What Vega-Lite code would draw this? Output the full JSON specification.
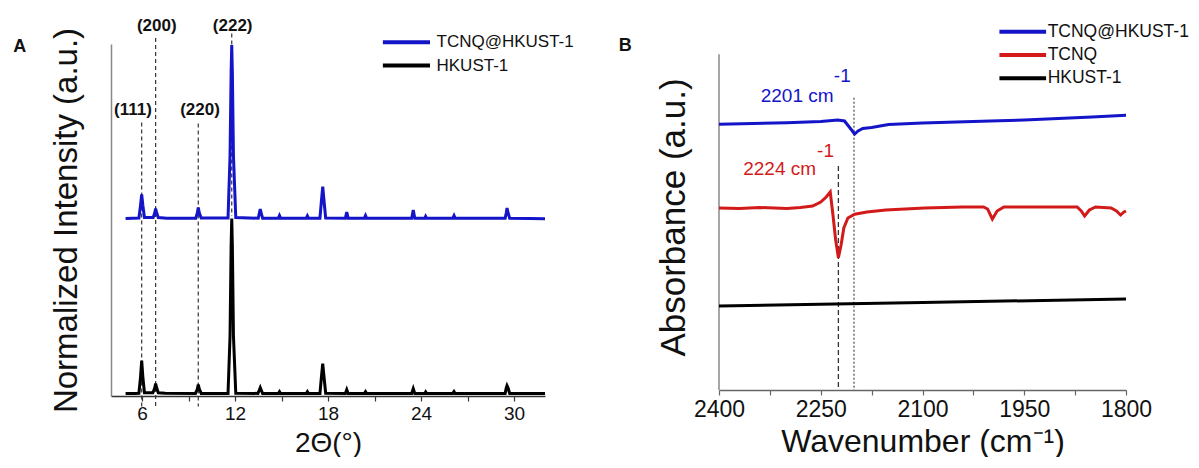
{
  "$schema": "https://vega.github.io/schema/vega-lite/v6.json",
  "padding": {"left": 13, "top": 16, "right": 0, "bottom": 0},
  "bounds": "flush",
  "spacing": 174,
  "config": {"font": "Liberation Sans", "view": {"stroke": null}, "axis": {"grid": false}},
  "datasets": {
    "xrd": [
      {"s": "HKUST-1", "x": 4.94, "y": 0.012}, {"s": "HKUST-1", "x": 5.5, "y": 0.013}, {"s": "HKUST-1", "x": 5.8, "y": 0.014},
      {"s": "HKUST-1", "x": 5.9, "y": 0.09}, {"s": "HKUST-1", "x": 5.98, "y": 0.177}, {"s": "HKUST-1", "x": 6.06, "y": 0.09},
      {"s": "HKUST-1", "x": 6.16, "y": 0.016}, {"s": "HKUST-1", "x": 6.7, "y": 0.016}, {"s": "HKUST-1", "x": 6.82, "y": 0.04},
      {"s": "HKUST-1", "x": 6.88, "y": 0.062}, {"s": "HKUST-1", "x": 6.95, "y": 0.04}, {"s": "HKUST-1", "x": 7.05, "y": 0.016},
      {"s": "HKUST-1", "x": 7.5, "y": 0.014}, {"s": "HKUST-1", "x": 9.45, "y": 0.013}, {"s": "HKUST-1", "x": 9.57, "y": 0.035},
      {"s": "HKUST-1", "x": 9.63, "y": 0.057}, {"s": "HKUST-1", "x": 9.7, "y": 0.035}, {"s": "HKUST-1", "x": 9.82, "y": 0.013},
      {"s": "HKUST-1", "x": 11.55, "y": 0.013}, {"s": "HKUST-1", "x": 11.68, "y": 0.3}, {"s": "HKUST-1", "x": 11.75, "y": 0.75},
      {"s": "HKUST-1", "x": 11.79, "y": 0.8875}, {"s": "HKUST-1", "x": 11.83, "y": 0.75}, {"s": "HKUST-1", "x": 11.9, "y": 0.3},
      {"s": "HKUST-1", "x": 12.05, "y": 0.014}, {"s": "HKUST-1", "x": 13.48, "y": 0.013}, {"s": "HKUST-1", "x": 13.57, "y": 0.03},
      {"s": "HKUST-1", "x": 13.63, "y": 0.042}, {"s": "HKUST-1", "x": 13.69, "y": 0.03}, {"s": "HKUST-1", "x": 13.78, "y": 0.013},
      {"s": "HKUST-1", "x": 14.8, "y": 0.013}, {"s": "HKUST-1", "x": 14.87, "y": 0.022}, {"s": "HKUST-1", "x": 14.94, "y": 0.013},
      {"s": "HKUST-1", "x": 16.6, "y": 0.013}, {"s": "HKUST-1", "x": 16.67, "y": 0.022}, {"s": "HKUST-1", "x": 16.74, "y": 0.013},
      {"s": "HKUST-1", "x": 17.48, "y": 0.013}, {"s": "HKUST-1", "x": 17.57, "y": 0.09}, {"s": "HKUST-1", "x": 17.66, "y": 0.162},
      {"s": "HKUST-1", "x": 17.75, "y": 0.09}, {"s": "HKUST-1", "x": 17.85, "y": 0.014}, {"s": "HKUST-1", "x": 19.12, "y": 0.013},
      {"s": "HKUST-1", "x": 19.21, "y": 0.032}, {"s": "HKUST-1", "x": 19.3, "y": 0.013}, {"s": "HKUST-1", "x": 20.35, "y": 0.013},
      {"s": "HKUST-1", "x": 20.42, "y": 0.022}, {"s": "HKUST-1", "x": 20.49, "y": 0.013}, {"s": "HKUST-1", "x": 23.4, "y": 0.013},
      {"s": "HKUST-1", "x": 23.5, "y": 0.037}, {"s": "HKUST-1", "x": 23.6, "y": 0.013}, {"s": "HKUST-1", "x": 24.25, "y": 0.013},
      {"s": "HKUST-1", "x": 24.3, "y": 0.02}, {"s": "HKUST-1", "x": 24.36, "y": 0.013}, {"s": "HKUST-1", "x": 26.05, "y": 0.013},
      {"s": "HKUST-1", "x": 26.13, "y": 0.022}, {"s": "HKUST-1", "x": 26.2, "y": 0.013}, {"s": "HKUST-1", "x": 29.43, "y": 0.013},
      {"s": "HKUST-1", "x": 29.5, "y": 0.04}, {"s": "HKUST-1", "x": 29.55, "y": 0.052}, {"s": "HKUST-1", "x": 29.62, "y": 0.04},
      {"s": "HKUST-1", "x": 29.72, "y": 0.013}, {"s": "HKUST-1", "x": 31, "y": 0.012}, {"s": "HKUST-1", "x": 32, "y": 0.012},
      {"s": "TCNQ@HKUST-1", "x": 4.94, "y": 0.888}, {"s": "TCNQ@HKUST-1", "x": 5.8, "y": 0.89}, {"s": "TCNQ@HKUST-1", "x": 5.9, "y": 0.95},
      {"s": "TCNQ@HKUST-1", "x": 5.98, "y": 1.008}, {"s": "TCNQ@HKUST-1", "x": 6.06, "y": 0.95}, {"s": "TCNQ@HKUST-1", "x": 6.16, "y": 0.892},
      {"s": "TCNQ@HKUST-1", "x": 6.72, "y": 0.892}, {"s": "TCNQ@HKUST-1", "x": 6.82, "y": 0.915}, {"s": "TCNQ@HKUST-1", "x": 6.88, "y": 0.937},
      {"s": "TCNQ@HKUST-1", "x": 6.95, "y": 0.915}, {"s": "TCNQ@HKUST-1", "x": 7.05, "y": 0.892}, {"s": "TCNQ@HKUST-1", "x": 7.6, "y": 0.889},
      {"s": "TCNQ@HKUST-1", "x": 9.47, "y": 0.889}, {"s": "TCNQ@HKUST-1", "x": 9.57, "y": 0.915}, {"s": "TCNQ@HKUST-1", "x": 9.63, "y": 0.942},
      {"s": "TCNQ@HKUST-1", "x": 9.7, "y": 0.915}, {"s": "TCNQ@HKUST-1", "x": 9.82, "y": 0.89}, {"s": "TCNQ@HKUST-1", "x": 11.55, "y": 0.89},
      {"s": "TCNQ@HKUST-1", "x": 11.68, "y": 1.2}, {"s": "TCNQ@HKUST-1", "x": 11.75, "y": 1.62}, {"s": "TCNQ@HKUST-1", "x": 11.79, "y": 1.755},
      {"s": "TCNQ@HKUST-1", "x": 11.83, "y": 1.62}, {"s": "TCNQ@HKUST-1", "x": 11.9, "y": 1.2}, {"s": "TCNQ@HKUST-1", "x": 12.05, "y": 0.892},
      {"s": "TCNQ@HKUST-1", "x": 13.5, "y": 0.889}, {"s": "TCNQ@HKUST-1", "x": 13.57, "y": 0.915}, {"s": "TCNQ@HKUST-1", "x": 13.63, "y": 0.934},
      {"s": "TCNQ@HKUST-1", "x": 13.69, "y": 0.915}, {"s": "TCNQ@HKUST-1", "x": 13.78, "y": 0.889}, {"s": "TCNQ@HKUST-1", "x": 14.8, "y": 0.889},
      {"s": "TCNQ@HKUST-1", "x": 14.87, "y": 0.902}, {"s": "TCNQ@HKUST-1", "x": 14.94, "y": 0.889}, {"s": "TCNQ@HKUST-1", "x": 16.6, "y": 0.889},
      {"s": "TCNQ@HKUST-1", "x": 16.67, "y": 0.9}, {"s": "TCNQ@HKUST-1", "x": 16.74, "y": 0.889}, {"s": "TCNQ@HKUST-1", "x": 17.48, "y": 0.889},
      {"s": "TCNQ@HKUST-1", "x": 17.57, "y": 0.97}, {"s": "TCNQ@HKUST-1", "x": 17.66, "y": 1.047}, {"s": "TCNQ@HKUST-1", "x": 17.75, "y": 0.97},
      {"s": "TCNQ@HKUST-1", "x": 17.85, "y": 0.89}, {"s": "TCNQ@HKUST-1", "x": 19.12, "y": 0.889}, {"s": "TCNQ@HKUST-1", "x": 19.21, "y": 0.92},
      {"s": "TCNQ@HKUST-1", "x": 19.3, "y": 0.889}, {"s": "TCNQ@HKUST-1", "x": 20.35, "y": 0.889}, {"s": "TCNQ@HKUST-1", "x": 20.42, "y": 0.902},
      {"s": "TCNQ@HKUST-1", "x": 20.49, "y": 0.889}, {"s": "TCNQ@HKUST-1", "x": 23.4, "y": 0.889}, {"s": "TCNQ@HKUST-1", "x": 23.5, "y": 0.93},
      {"s": "TCNQ@HKUST-1", "x": 23.6, "y": 0.889}, {"s": "TCNQ@HKUST-1", "x": 24.25, "y": 0.889}, {"s": "TCNQ@HKUST-1", "x": 24.3, "y": 0.898},
      {"s": "TCNQ@HKUST-1", "x": 24.36, "y": 0.889}, {"s": "TCNQ@HKUST-1", "x": 26.05, "y": 0.889}, {"s": "TCNQ@HKUST-1", "x": 26.13, "y": 0.902},
      {"s": "TCNQ@HKUST-1", "x": 26.2, "y": 0.889}, {"s": "TCNQ@HKUST-1", "x": 29.43, "y": 0.889}, {"s": "TCNQ@HKUST-1", "x": 29.5, "y": 0.915},
      {"s": "TCNQ@HKUST-1", "x": 29.55, "y": 0.94}, {"s": "TCNQ@HKUST-1", "x": 29.62, "y": 0.915}, {"s": "TCNQ@HKUST-1", "x": 29.72, "y": 0.889},
      {"s": "TCNQ@HKUST-1", "x": 31, "y": 0.887}, {"s": "TCNQ@HKUST-1", "x": 32, "y": 0.886}
    ],
    "ir": [
      {"s": "TCNQ@HKUST-1", "x": 2400, "y": 2.657}, {"s": "TCNQ@HKUST-1", "x": 2350, "y": 2.665}, {"s": "TCNQ@HKUST-1", "x": 2300, "y": 2.672},
      {"s": "TCNQ@HKUST-1", "x": 2250, "y": 2.685}, {"s": "TCNQ@HKUST-1", "x": 2225, "y": 2.7}, {"s": "TCNQ@HKUST-1", "x": 2215, "y": 2.69},
      {"s": "TCNQ@HKUST-1", "x": 2208, "y": 2.63}, {"s": "TCNQ@HKUST-1", "x": 2200, "y": 2.56}, {"s": "TCNQ@HKUST-1", "x": 2195, "y": 2.59},
      {"s": "TCNQ@HKUST-1", "x": 2188, "y": 2.615}, {"s": "TCNQ@HKUST-1", "x": 2175, "y": 2.625}, {"s": "TCNQ@HKUST-1", "x": 2150, "y": 2.655},
      {"s": "TCNQ@HKUST-1", "x": 2100, "y": 2.67}, {"s": "TCNQ@HKUST-1", "x": 2050, "y": 2.68}, {"s": "TCNQ@HKUST-1", "x": 2000, "y": 2.69},
      {"s": "TCNQ@HKUST-1", "x": 1950, "y": 2.7}, {"s": "TCNQ@HKUST-1", "x": 1900, "y": 2.715}, {"s": "TCNQ@HKUST-1", "x": 1850, "y": 2.73},
      {"s": "TCNQ@HKUST-1", "x": 1800, "y": 2.747},
      {"s": "TCNQ", "x": 2400, "y": 1.82}, {"s": "TCNQ", "x": 2370, "y": 1.815}, {"s": "TCNQ", "x": 2340, "y": 1.825},
      {"s": "TCNQ", "x": 2300, "y": 1.815}, {"s": "TCNQ", "x": 2280, "y": 1.825}, {"s": "TCNQ", "x": 2262, "y": 1.84},
      {"s": "TCNQ", "x": 2250, "y": 1.88}, {"s": "TCNQ", "x": 2242, "y": 1.93}, {"s": "TCNQ", "x": 2236, "y": 1.98},
      {"s": "TCNQ", "x": 2232, "y": 1.75}, {"s": "TCNQ", "x": 2228, "y": 1.5}, {"s": "TCNQ", "x": 2224, "y": 1.323},
      {"s": "TCNQ", "x": 2220, "y": 1.45}, {"s": "TCNQ", "x": 2216, "y": 1.62}, {"s": "TCNQ", "x": 2210, "y": 1.72},
      {"s": "TCNQ", "x": 2200, "y": 1.757}, {"s": "TCNQ", "x": 2182, "y": 1.78}, {"s": "TCNQ", "x": 2154, "y": 1.8},
      {"s": "TCNQ", "x": 2097, "y": 1.82}, {"s": "TCNQ", "x": 2041, "y": 1.83}, {"s": "TCNQ", "x": 2010, "y": 1.83},
      {"s": "TCNQ", "x": 2004, "y": 1.81}, {"s": "TCNQ", "x": 1997, "y": 1.71}, {"s": "TCNQ", "x": 1990, "y": 1.79},
      {"s": "TCNQ", "x": 1980, "y": 1.83}, {"s": "TCNQ", "x": 1930, "y": 1.83}, {"s": "TCNQ", "x": 1872, "y": 1.83},
      {"s": "TCNQ", "x": 1866, "y": 1.79}, {"s": "TCNQ", "x": 1861, "y": 1.74}, {"s": "TCNQ", "x": 1854, "y": 1.8},
      {"s": "TCNQ", "x": 1845, "y": 1.83}, {"s": "TCNQ", "x": 1822, "y": 1.82}, {"s": "TCNQ", "x": 1814, "y": 1.79},
      {"s": "TCNQ", "x": 1808, "y": 1.75}, {"s": "TCNQ", "x": 1803, "y": 1.78}, {"s": "TCNQ", "x": 1800, "y": 1.79},
      {"s": "HKUST-1", "x": 2400, "y": 0.84}, {"s": "HKUST-1", "x": 2100, "y": 0.875}, {"s": "HKUST-1", "x": 1800, "y": 0.91}
    ]
  },
  "hconcat": [
    {
      "width": 434,
      "height": 352,
      "encoding": {
        "x": {"field": "x", "type": "quantitative", "scale": {"domain": [4, 32], "nice": false, "zero": false},
          "axis": {"values": [6, 9, 12, 15, 18, 21, 24, 27, 30], "labelExpr": "datum.value % 6 === 0 ? datum.label : ''",
            "labelFlush": false, "tickSize": 5, "tickColor": "#333", "tickWidth": 1.2, "domainColor": "#333", "domainWidth": 1.5,
            "labelFontSize": 19, "labelColor": "#111", "labelPadding": 3, "title": "2Θ(°)", "titleFontSize": 28,
            "titleFontWeight": "normal", "titleColor": "#111", "titlePadding": 6}},
        "y": {"field": "y", "type": "quantitative", "scale": {"domain": [0, 1.76], "nice": false, "zero": false},
          "axis": {"ticks": false, "labels": false, "domainColor": "#888", "domainWidth": 1.5, "title": "Normalized Intensity (a.u.)",
            "titleFontSize": 33, "titleFontWeight": "normal", "titleColor": "#111", "titlePadding": 28}}
      },
      "layer": [
        {
          "data": {"values": [
            {"x": 5.98, "y": 1.3675, "y2": -0.0625}, {"x": 6.88, "y": 1.79, "y2": -0.0625},
            {"x": 9.63, "y": 1.3625, "y2": -0.0525}, {"x": 11.79, "y": 1.8125, "y2": 0.9}
          ]},
          "mark": {"type": "rule", "strokeDash": [4, 3], "strokeWidth": 1.2, "color": "#333"},
          "encoding": {"y2": {"field": "y2"}}
        },
        {
          "data": {"name": "xrd"},
          "transform": [{"filter": "datum.s === 'HKUST-1'"}],
          "mark": {"type": "line", "strokeWidth": 3, "color": "#000000"},
          "encoding": {}
        },
        {
          "data": {"name": "xrd"},
          "transform": [{"filter": "datum.s === 'TCNQ@HKUST-1'"}],
          "mark": {"type": "line", "strokeWidth": 3, "color": "#1414c8"},
          "encoding": {}
        },
        {
          "data": {"values": [
            {"x": 21.54, "x2": 24.58, "y": 1.769, "s": "TCNQ@HKUST-1"},
            {"x": 21.54, "x2": 24.58, "y": 1.6525, "s": "HKUST-1"}
          ]},
          "mark": {"type": "rule", "strokeWidth": 4},
          "encoding": {
            "x2": {"field": "x2"},
            "color": {"field": "s", "type": "nominal", "scale": {"domain": ["TCNQ@HKUST-1", "TCNQ", "HKUST-1"], "range": ["#1414c8", "#d21a1a", "#000000"]}, "legend": null}
          }
        },
        {
          "data": {"values": [
            {"x": 25.0, "y": 1.769, "t": "TCNQ@HKUST-1"},
            {"x": 25.0, "y": 1.6525, "t": "HKUST-1"}
          ]},
          "mark": {"type": "text", "align": "left", "baseline": "middle", "fontSize": 17, "color": "#111"},
          "encoding": {"text": {"field": "t"}}
        },
        {
          "data": {"values": [
            {"x": 5.42, "y": 1.4325, "t": "(111)"}, {"x": 6.95, "y": 1.8525, "t": "(200)"},
            {"x": 9.74, "y": 1.4325, "t": "(220)"}, {"x": 11.85, "y": 1.8525, "t": "(222)"}
          ]},
          "mark": {"type": "text", "align": "center", "baseline": "middle", "fontSize": 17, "fontWeight": "bold", "color": "#111"},
          "encoding": {"text": {"field": "t"}}
        },
        {
          "data": {"values": [{"x": -2.3, "y": 1.744, "t": "A"}]},
          "mark": {"type": "text", "align": "left", "baseline": "middle", "fontSize": 18, "fontWeight": "bold", "color": "#111"},
          "encoding": {"text": {"field": "t"}}
        }
      ]
    },
    {
      "width": 407,
      "height": 346,
      "encoding": {
        "x": {"field": "x", "type": "quantitative", "scale": {"domain": [1800, 2400], "reverse": true, "nice": false, "zero": false},
          "axis": {"values": [2400, 2325, 2250, 2175, 2100, 2025, 1950, 1875, 1800], "format": "d",
            "labelExpr": "datum.value % 150 === 0 ? datum.label : ''", "labelFlush": false, "labelOverlap": false,
            "tickSize": 5, "tickColor": "#666", "tickWidth": 1.2, "domainColor": "#666", "domainWidth": 1.5,
            "labelFontSize": 23, "labelColor": "#111", "labelPadding": 3, "title": "Wavenumber (cm⁻¹)", "titleFontSize": 32,
            "titleFontWeight": "normal", "titleColor": "#111", "titlePadding": 5}},
        "y": {"field": "y", "type": "quantitative", "scale": {"domain": [0, 3.46], "nice": false, "zero": false},
          "axis": {"ticks": false, "labels": false, "domain": false, "title": "Absorbance (a.u.)",
            "titleFontSize": 35, "titleFontWeight": "normal", "titleColor": "#111", "titlePadding": 28}}
      },
      "layer": [
        {
          "data": {"values": [{"x": 2400, "y": 0, "y2": 3.357}]},
          "mark": {"type": "rule", "strokeWidth": 1.5, "color": "#888"},
          "encoding": {"y2": {"field": "y2"}}
        },
        {
          "data": {"values": [{"x": 2224, "y": 2.24, "y2": 0}]},
          "mark": {"type": "rule", "strokeDash": [5, 3], "strokeWidth": 1.3, "color": "#333"},
          "encoding": {"y2": {"field": "y2"}}
        },
        {
          "data": {"values": [{"x": 2201, "y": 2.923, "y2": 0}]},
          "mark": {"type": "rule", "strokeDash": [2, 2], "strokeWidth": 1, "color": "#222"},
          "encoding": {"y2": {"field": "y2"}}
        },
        {
          "data": {"name": "ir"},
          "mark": {"type": "line", "strokeWidth": 3},
          "encoding": {
            "color": {"field": "s", "type": "nominal", "scale": {"domain": ["TCNQ@HKUST-1", "TCNQ", "HKUST-1"], "range": ["#1414c8", "#d21a1a", "#000000"]}, "legend": null}
          }
        },
        {
          "data": {"values": [
            {"x": 1986.6, "x2": 1917.8, "y": 3.583, "s": "TCNQ@HKUST-1"},
            {"x": 1986.6, "x2": 1917.8, "y": 3.35, "s": "TCNQ"},
            {"x": 1986.6, "x2": 1917.8, "y": 3.117, "s": "HKUST-1"}
          ]},
          "mark": {"type": "rule", "strokeWidth": 4},
          "encoding": {
            "x2": {"field": "x2"},
            "color": {"field": "s", "type": "nominal", "scale": {"domain": ["TCNQ@HKUST-1", "TCNQ", "HKUST-1"], "range": ["#1414c8", "#d21a1a", "#000000"]}, "legend": null}
          }
        },
        {
          "data": {"values": [
            {"x": 1915.5, "y": 3.583, "t": "TCNQ@HKUST-1"},
            {"x": 1915.5, "y": 3.35, "t": "TCNQ"},
            {"x": 1915.5, "y": 3.117, "t": "HKUST-1"}
          ]},
          "mark": {"type": "text", "align": "left", "baseline": "middle", "fontSize": 17.5, "color": "#111"},
          "encoding": {"text": {"field": "t"}}
        },
        {
          "data": {"values": [
            {"x": 2284.8, "y": 2.94, "t": "2201 cm", "s": "TCNQ@HKUST-1"},
            {"x": 2218.3, "y": 3.14, "t": "-1", "s": "TCNQ@HKUST-1"},
            {"x": 2310.6, "y": 2.21, "t": "2224 cm", "s": "TCNQ"},
            {"x": 2242.9, "y": 2.39, "t": "-1", "s": "TCNQ"}
          ]},
          "mark": {"type": "text", "align": "center", "baseline": "middle", "fontSize": 19},
          "encoding": {
            "text": {"field": "t"},
            "color": {"field": "s", "type": "nominal", "scale": {"domain": ["TCNQ@HKUST-1", "TCNQ", "HKUST-1"], "range": ["#1414c8", "#d21a1a", "#000000"]}, "legend": null}
          }
        },
        {
          "data": {"values": [{"x": 2547.7, "y": 3.44, "t": "B"}]},
          "mark": {"type": "text", "align": "left", "baseline": "middle", "fontSize": 18, "fontWeight": "bold", "color": "#111"},
          "encoding": {"text": {"field": "t"}}
        }
      ]
    }
  ]
}
